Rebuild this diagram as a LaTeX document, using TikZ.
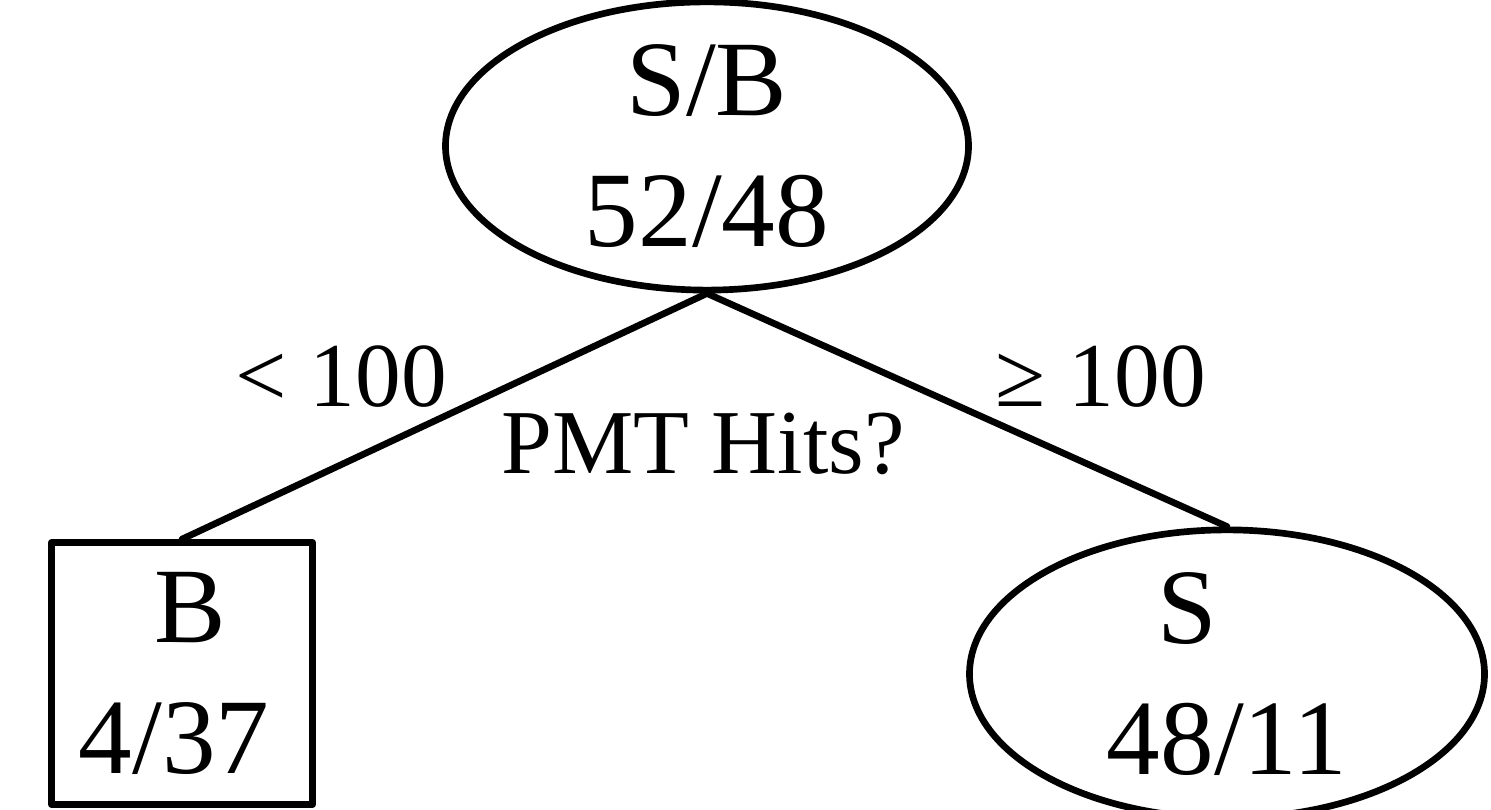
\documentclass[tikz,border=0pt]{standalone}
\usepackage{fontspec}
\setmainfont{Liberation Serif}
\usetikzlibrary{shapes.geometric}

\newcommand{\nodefont}{\fontsize{61}{75}\selectfont}
\newcommand{\cutfont}{\fontsize{52}{62}\selectfont}

\begin{document}
\begin{tikzpicture}[line cap=round,line join=round,
    treenode/.style={draw,line width=3.8pt,inner sep=0pt,align=center,font=\nodefont},
    cutlabel/.style={anchor=base,inner sep=0pt,font=\cutfont}]
  \useasboundingbox (0,0) rectangle (29.82,16.2);
  % 根节点
  \node[treenode,ellipse,minimum width=10.46cm,minimum height=5.22cm] (root) at (14.14,13.28) {S/B\\52/48};
  % 叶节点
  \node[treenode,rectangle,minimum width=5.22cm,minimum height=5.24cm] (leafB) at (3.64,2.73) {\kern0.15em B\\4/37\kern0.15em\null};
  \node[treenode,ellipse,minimum width=10.3cm,minimum height=5.22cm] (leafS) at (24.54,2.72) {S\kern0.75em\null\\48/11};
  % 分支
  \draw[line width=3.8pt] (root.south) -- (leafB.north);
  \draw[line width=3.8pt] (root.south) -- (leafS.north);
  % 切割条件
  \node[cutlabel] (lo) at (6.82,8.06) {< 100};
  \node[cutlabel] (hi) at (22.02,8.06) {≥ 100};
  \node[cutlabel] (cut) at (14.06,6.72) {PMT Hits?};
\end{tikzpicture}
\end{document}
